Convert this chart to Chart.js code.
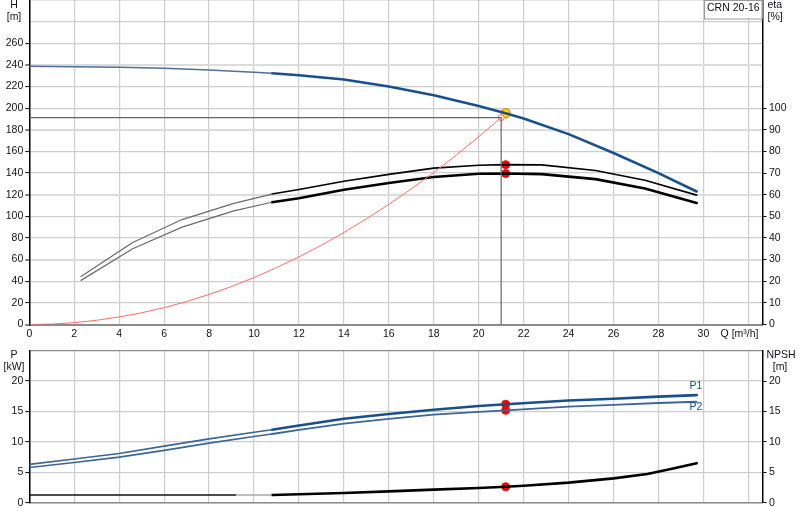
<!DOCTYPE html>
<html><head><meta charset="utf-8">
<script src="https://cdn.jsdelivr.net/npm/chart.js@4.4.0/dist/chart.umd.min.js"></script>
<style>
html,body{margin:0;padding:0;background:#fff;}
#wrap{position:relative;width:800px;height:520px;overflow:hidden;}
canvas{position:absolute;left:0;}
</style></head>
<body><div id="wrap">
<canvas id="top" width="800" height="345" style="top:0"></canvas>
<canvas id="bot" width="800" height="175" style="top:345px"></canvas>
</div>
<script>
// ---------- data ----------
const qTicks = [0,2,4,6,8,10,12,14,16,18,20,22,24,26,28,30,32];
const hTicks = [0,20,40,60,80,100,120,140,160,180,200,220,240,260,280,300];
const etaTicks = [0,10,20,30,40,50,60,70,80,90,100];
const pTicks = [0,5,10,15,20,25];
const npshTicks = [0,5,10,15,20];

const hQThin = [0, 2, 4, 6, 8, 10, 10.8];
const hThin  = [238.8, 238.3, 237.8, 236.9, 235.4, 233.3, 232.3];
const hQ     = [10.8, 12, 14, 16, 18, 20, 21.2, 22, 24, 26, 28, 29.7];
const hVals  = [232.3, 230.5, 226.5, 220, 212, 202, 195.3, 190.5, 176, 158.5, 140, 123];

const etaQThin = [2.3, 4.6, 6.8, 9.1, 10.8];
const etaUpThin = [22.2, 37.9, 48.5, 56, 60.3];
const etaLoThin = [20.4, 35, 45, 52.5, 56.5];
const etaQ  = [10.8, 12, 14, 16, 18, 20, 21.2, 22.8, 25.2, 27.4, 29.7];
const etaUp = [60.3, 62.4, 66.2, 69.4, 72.3, 73.6, 73.9, 73.8, 71.2, 66.7, 59.8];
const etaLo = [56.5, 58.4, 62.3, 65.4, 68.2, 69.7, 69.8, 69.5, 67.2, 62.9, 56.2];

const sysQ = [0, 1, 2, 3, 4, 5, 6, 7, 8, 9, 10, 11, 12, 13, 14, 15, 16, 17, 18, 19, 20, 21];
const sysH = [0, 0.4, 1.7, 3.9, 7, 10.8, 15.6, 21.2, 27.8, 35.1, 43.4, 52.5, 62.5, 73.3, 85, 97.6, 111, 125.3, 140.5, 156.5, 173.5, 191.3];

const dutyQ = 21;      // requested flow
const dutyH = 191.3;   // requested head
const opQ = 21.2;      // operating point
const opH = 195.3;

const pQThin = [0, 2, 4, 6, 8, 10, 10.8];
const p1Thin = [6.3, 7.2, 8.1, 9.3, 10.5, 11.6, 12.0];
const p2Thin = [5.8, 6.6, 7.5, 8.6, 9.8, 10.9, 11.3];
const pQ = [10.8, 12, 14, 16, 18, 20, 21.2, 24, 26, 28, 29.7];
const p1 = [12.0, 12.7, 13.8, 14.6, 15.3, 15.9, 16.2, 16.8, 17.1, 17.45, 17.7];
const p2 = [11.3, 11.96, 13.0, 13.8, 14.5, 14.95, 15.2, 15.8, 16.1, 16.4, 16.6];

const npshQThin = [0, 9.2];
const npshThin = [1.27, 1.27];
const npshQGap = [9.2, 10.8];
const npshGap = [1.27, 1.27];
const npshQ = [10.8, 12, 14, 16, 18, 20, 21.2, 22, 24, 26, 27.5, 28.5, 29.7];
const npsh = [1.27, 1.38, 1.6, 1.87, 2.15, 2.42, 2.63, 2.8, 3.3, 4.0, 4.72, 5.5, 6.5];

const opP1 = 16.2, opP2 = 15.2, opNpsh = 2.63, opEtaUp = 73.9, opEtaLo = 69.8;

// ---------- helpers ----------
const pts = (xs, ys) => xs.map((x, i) => ({x: x, y: ys[i]}));
const FONT = 'Arial, "Liberation Sans", sans-serif';
const FS = 10.5;
const TXT = '#111118';
const BLUE = '#17508c';
const XMAX = 32.63;

function line(data, color, width, axis, extra) {
  return Object.assign({type: 'line', data: data, borderColor: color, backgroundColor: color,
    borderWidth: width, pointRadius: 0, showLine: true, fill: false, tension: 0,
    borderJoinStyle: 'round', borderCapStyle: 'round', yAxisID: axis}, extra || {});
}
function dot(x, y, axis, fillC, strokeC, r, bw) {
  return {type: 'scatter', data: [{x: x, y: y}], yAxisID: axis, pointRadius: r,
    pointBackgroundColor: fillC, pointBorderColor: strokeC, pointBorderWidth: bw || 1, showLine: false};
}
function setTicks(list) { return (axis) => { axis.ticks = list.map(v => ({value: v})); }; }
function noPad(axis) { axis.paddingTop = 0; axis.paddingBottom = 0; axis.paddingLeft = 0; axis.paddingRight = 0; }

function textPlugin(drawFn) {
  return {id: 'txt' + Math.random().toString(36).slice(2), afterDraw(chart) {
    const c = chart.ctx; c.save(); drawFn(c, chart); c.restore(); }};
}

const gridCol = '#cdcdcd';

// ---------- top chart ----------
new Chart(document.getElementById('top'), {
  data: {datasets: [
    line(pts(sysQ, sysH), '#ff6a6a', 1, 'yH'),
    line([{x: 0, y: dutyH}, {x: dutyQ, y: dutyH}], '#666', 1.2, 'yH', {borderCapStyle: 'butt'}),
    line([{x: dutyQ, y: dutyH}, {x: dutyQ, y: 0}], '#666', 1.2, 'yH', {borderCapStyle: 'butt'}),
    line(pts(etaQThin, etaUpThin), '#6a6a6a', 1.2, 'yEta'),
    line(pts(etaQThin, etaLoThin), '#6a6a6a', 1.2, 'yEta'),
    line(pts(etaQ, etaUp), '#000', 1.6, 'yEta'),
    line(pts(etaQ, etaLo), '#000', 2.6, 'yEta'),
    line(pts(hQThin, hThin), '#4f709a', 1.5, 'yH'),
    line(pts(hQ, hVals), BLUE, 2.6, 'yH'),
    dot(dutyQ, dutyH, 'yH', 'rgba(255,255,255,0.6)', '#ff7070', 3),
    dot(opQ, opEtaUp, 'yEta', '#ff0000', '#ff0000', 4),
    dot(opQ, opEtaLo, 'yEta', '#ff0000', '#ff0000', 4),
    dot(opQ, opH, 'yH', '#ffd800', '#f09000', 4.5, 1.3)
  ]},
  options: {
    responsive: false, animation: false, devicePixelRatio: 1,
    layout: {padding: 0, autoPadding: false},
    plugins: {legend: {display: false}, tooltip: {enabled: false}},
    scales: {
      x: {type: 'linear', position: 'bottom', min: 0, max: XMAX,
        afterBuildTicks: setTicks(qTicks),
        afterFit: (a) => { noPad(a); a.height = 20.5; },
        ticks: {autoSkip: false, maxRotation: 0, padding: 3, color: TXT, font: {family: FONT, size: FS},
          callback: (v) => v <= 30 ? v : ''},
        grid: {color: gridCol, lineWidth: 1.2, drawTicks: false},
        border: {display: true, color: '#8c8c8c', width: 2}},
      yH: {type: 'linear', position: 'left', min: 0, max: 300,
        afterBuildTicks: setTicks(hTicks),
        afterFit: (a) => { noPad(a); a.width = 29.3; },
        ticks: {padding: 2, color: TXT, font: {family: FONT, size: FS},
          callback: (v) => v <= 260 ? v : ''},
        grid: {color: (c) => c.tick && c.tick.value === 300 ? '#a0a0a0' : (c.tick && c.tick.value % 60 === 0 ? '#dcdcdc' : gridCol),
          lineWidth: (c) => c.tick && c.tick.value % 60 === 0 && c.tick.value !== 300 ? 2 : 1.2,
          tickLength: 4, tickColor: (c) => c.tick && c.tick.value > 260 ? 'rgba(0,0,0,0)' : '#000', tickWidth: 1},
        border: {display: true, color: '#000', width: 1.5}},
      yEta: {type: 'linear', position: 'right', min: 0, max: 150,
        afterBuildTicks: setTicks(etaTicks),
        afterFit: (a) => { noPad(a); a.width = 37.5; },
        ticks: {padding: 2.5, color: TXT, font: {family: FONT, size: FS}},
        grid: {drawOnChartArea: false, tickLength: 4, tickColor: '#000', tickWidth: 1},
        border: {display: true, color: '#000', width: 1.5}}
    }
  },
  plugins: [textPlugin((c, chart) => {
    c.fillStyle = TXT; c.font = FS + 'px ' + FONT; c.textBaseline = 'middle';
    c.textAlign = 'center';
    c.fillText('H', 14, 5.5);
    c.fillText('[m]', 14, 17);
    c.textAlign = 'left';
    c.fillText('eta', 767.5, 5.5);
    c.fillText('[%]', 767.5, 17);
    c.textAlign = 'center';
    c.fillText('Q [m³/h]', 739.5, 334.5);
    // model box
    c.fillStyle = '#fff'; c.fillRect(704, 0, 58.5, 19);
    c.strokeStyle = '#9a9a9a'; c.lineWidth = 1; c.strokeRect(704.5, 0.5, 57.5, 18.5);
    c.fillStyle = TXT; c.fillText('CRN 20-16', 733.3, 8);
  })]
});

// ---------- bottom chart ----------
new Chart(document.getElementById('bot'), {
  data: {datasets: [
    line(pts(npshQThin, npshThin), '#111', 1.3, 'yN', {borderCapStyle: 'butt'}),
    line(pts(npshQGap, npshGap), '#a8a8a8', 1.3, 'yN', {borderCapStyle: 'butt'}),
    line(pts(npshQ, npsh), '#000', 2.6, 'yN'),
    line(pts(pQThin, p2Thin), '#3c6696', 1.6, 'yP'),
    line(pts(pQThin, p1Thin), '#3c6696', 1.6, 'yP'),
    line(pts(pQ, p2), '#3c6696', 1.8, 'yP'),
    line(pts(pQ, p1), BLUE, 2.6, 'yP'),
    dot(opQ, opP1, 'yP', '#ff0000', '#ff0000', 4),
    dot(opQ, opP2, 'yP', '#ff0000', '#ff0000', 4),
    dot(opQ, opNpsh, 'yN', '#ff0000', '#ff0000', 4)
  ]},
  options: {
    responsive: false, animation: false, devicePixelRatio: 1,
    layout: {padding: {top: 5.7, left: 0, right: 0, bottom: 0}, autoPadding: false},
    plugins: {legend: {display: false}, tooltip: {enabled: false}},
    scales: {
      x: {type: 'linear', position: 'bottom', min: 0, max: XMAX,
        afterBuildTicks: setTicks(qTicks),
        afterFit: (a) => { noPad(a); a.height = 17.3; },
        ticks: {display: false},
        grid: {color: gridCol, lineWidth: 1.2, drawTicks: false},
        border: {display: true, color: '#8c8c8c', width: 1.5}},
      yP: {type: 'linear', position: 'left', min: 0, max: 25,
        afterBuildTicks: setTicks(pTicks),
        afterFit: (a) => { noPad(a); a.width = 29.3; },
        ticks: {padding: 2, color: TXT, font: {family: FONT, size: FS},
          callback: (v) => v <= 20 ? v : ''},
        grid: {color: (c) => c.tick && c.tick.value === 25 ? '#8c8c8c' : gridCol, lineWidth: 1.2,
          tickLength: 4, tickColor: (c) => c.tick && c.tick.value > 20 ? 'rgba(0,0,0,0)' : '#000', tickWidth: 1},
        border: {display: true, color: '#000', width: 1.5}},
      yN: {type: 'linear', position: 'right', min: 0, max: 25,
        afterBuildTicks: setTicks(npshTicks),
        afterFit: (a) => { noPad(a); a.width = 37.5; },
        ticks: {padding: 2.5, color: TXT, font: {family: FONT, size: FS}},
        grid: {drawOnChartArea: false, tickLength: 4, tickColor: '#000', tickWidth: 1},
        border: {display: true, color: '#000', width: 1.5}}
    }
  },
  plugins: [textPlugin((c, chart) => {
    c.fillStyle = TXT; c.font = FS + 'px ' + FONT; c.textBaseline = 'middle';
    c.textAlign = 'center';
    c.fillText('P', 14, 10);
    c.fillText('[kW]', 14, 22);
    c.textAlign = 'left';
    c.fillText('NPSH', 766.5, 10);
    c.textAlign = 'center';
    c.fillText('[m]', 780, 22);
    c.fillStyle = BLUE; c.textAlign = 'left';
    c.fillText('P1', 689.5, 41);
    c.fillText('P2', 689.5, 62.5);
  })]
});
</script>
</body></html>
